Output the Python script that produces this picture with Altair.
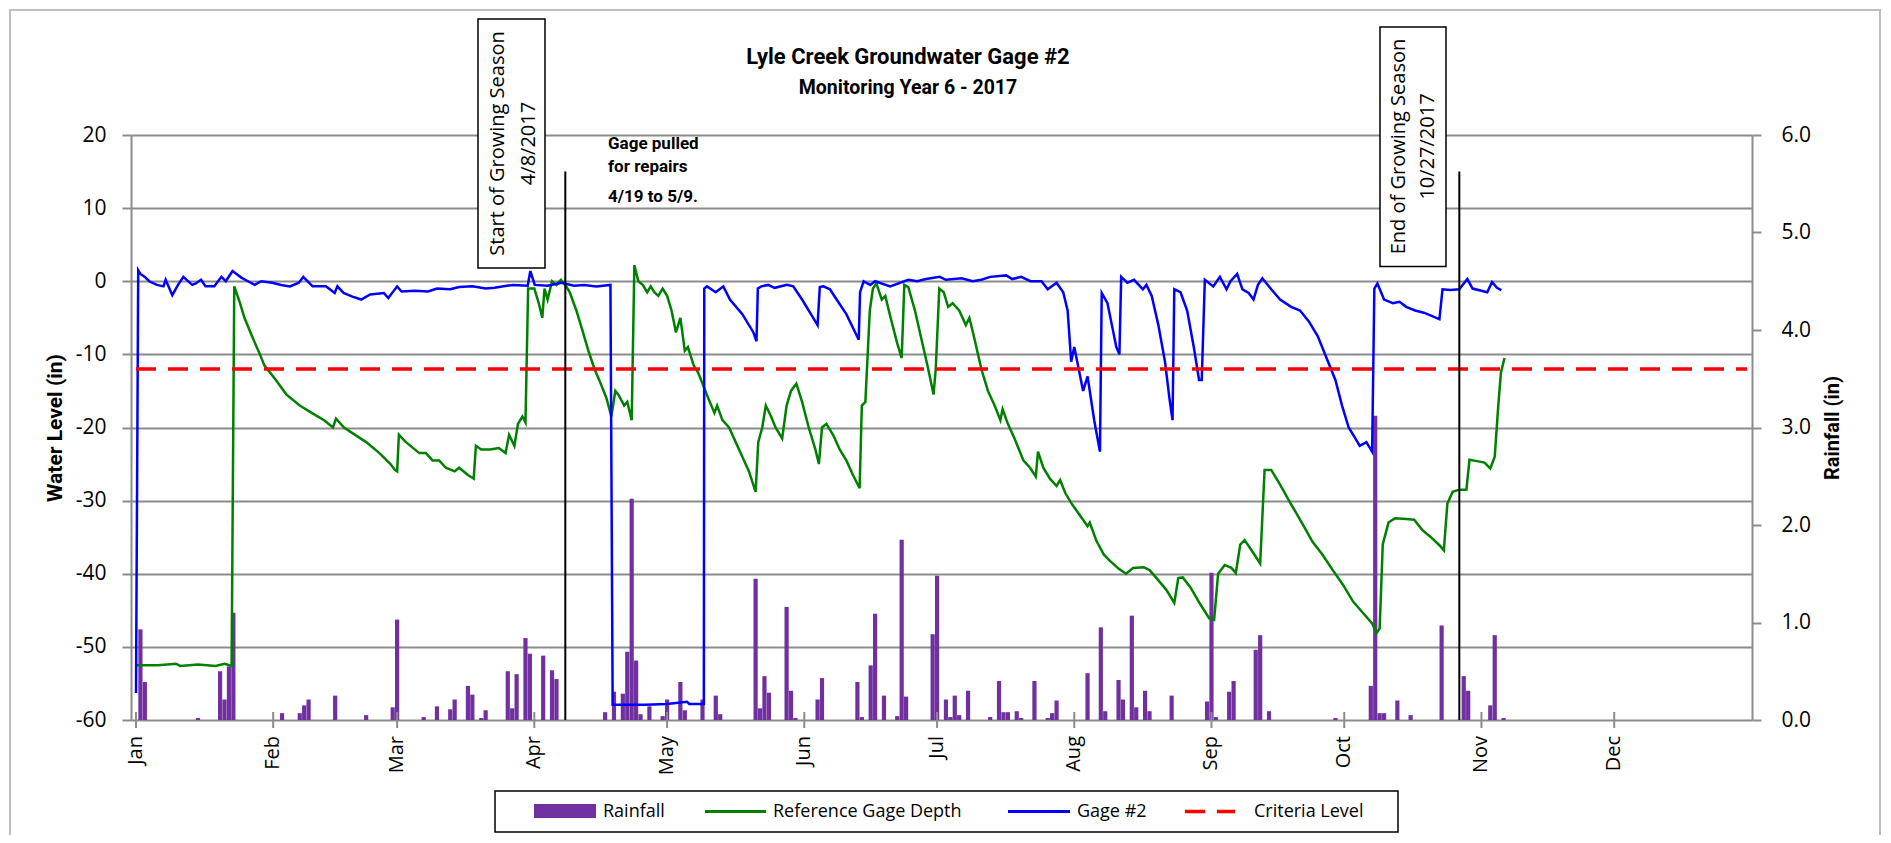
import altair as alt
import pandas as pd

# ---------------- data (day index: 0 = Jan 1, 2017) ----------------
MONTHS = ["Jan", "Feb", "Mar", "Apr", "May", "Jun", "Jul", "Aug", "Sep", "Oct", "Nov", "Dec"]
MONTH_START = [0, 31, 59, 90, 120, 151, 181, 212, 243, 273, 304, 334]

RAIN_DAY = [1, 2, 14, 19, 20, 21, 22, 33, 37, 38, 39, 45, 52, 58, 59, 65, 68, 71, 72, 75, 76, 78, 79,
            84, 85, 86, 88, 89, 92, 94, 95, 106, 108, 110, 111, 112, 113, 114, 116, 119, 120, 123, 124,
            128, 131, 132, 140, 141, 142, 143, 147, 148, 149, 154, 155, 163, 164, 166, 167, 169, 172,
            173, 174, 180, 181, 183, 184, 185, 186, 188, 193, 195, 196, 197, 199, 200, 203, 206, 207,
            208, 215, 218, 219, 222, 223, 225, 226, 228, 229, 234, 242, 243, 244, 247, 248, 253, 254,
            256, 271, 279, 280, 281, 282, 285, 288, 295, 300, 301, 306, 307, 309]
RAIN_IN = [0.93, 0.39, 0.02, 0.50, 0.21, 0.55, 1.10, 0.07, 0.07, 0.15, 0.21, 0.25, 0.05, 0.13, 1.03,
           0.03, 0.14, 0.11, 0.21, 0.35, 0.26, 0.02, 0.10, 0.50, 0.12, 0.47, 0.84, 0.68, 0.66, 0.51,
           0.42, 0.08, 0.29, 0.27, 0.70, 2.27, 0.61, 0.06, 0.14, 0.04, 0.21, 0.39, 0.10, 0.21, 0.25,
           0.06, 1.45, 0.12, 0.45, 0.28, 1.16, 0.30, 0.02, 0.21, 0.43, 0.39, 0.03, 0.56, 1.09, 0.25,
           0.04, 1.85, 0.24, 0.88, 1.48, 0.21, 0.03, 0.25, 0.05, 0.30, 0.03, 0.40, 0.08, 0.08, 0.09,
           0.02, 0.40, 0.02, 0.07, 0.20, 0.48, 0.95, 0.09, 0.41, 0.21, 1.07, 0.13, 0.30, 0.09, 0.25,
           0.19, 1.51, 0.03, 0.29, 0.40, 0.72, 0.87, 0.09, 0.02, 0.35, 3.12, 0.07, 0.07, 0.20, 0.05,
           0.97, 0.45, 0.30, 0.15, 0.87, 0.02]

REF_DAY = [0, 5, 9, 10, 14, 18, 20, 21.6, 22.2, 23.5, 24.5, 26.2, 28, 29, 31.6, 34, 37, 39.7, 42.5,
           44.5, 45.2, 47, 49, 52, 55, 57.5, 58.5, 59, 59.4, 61, 64, 65.5, 67, 68.5, 70, 72, 73, 75,
           76.3, 76.8, 78, 80, 82, 83.5, 84.3, 85.5, 86.3, 87.3, 88, 88.6, 90, 91, 91.8, 92.3, 93, 94,
           95, 96, 97, 98, 99.5, 101, 102.2, 103.6, 105, 106.3, 107.4, 108.3, 109, 110.3, 111, 112,
           112.6, 113.5, 114.5, 115.5, 116.3, 117.1, 118, 119, 120, 121, 122, 123, 124, 124.7, 126,
           127, 128, 129.3, 130.7, 131.3, 132.5, 134, 135.5, 137, 138.5, 140, 140.6, 141.5, 142.3,
           143.5, 144.5, 146, 147, 148, 149.2, 150.5, 152, 153.5, 154.3, 155, 156, 157.5, 159, 160.5,
           162, 163.5, 164, 164.8, 165.8, 166.5, 167.3, 168.5, 169.3, 170.5, 172, 173, 173.6, 174.5,
           176, 177.5, 179, 180.2, 180.7, 181.5, 182.5, 183.5, 184.5, 186, 187.5, 188.3, 189.5, 191,
           192.5, 194, 195.3, 195.8, 197, 198.5, 199.5, 200.5, 202, 203.3, 203.8, 205, 206.5, 208,
           208.8, 210, 211.5, 213.5, 215, 215.5, 217, 218.7, 220, 222, 223.7, 225.3, 227.7, 229,
           230.3, 232.8, 234.6, 235.5, 236.5, 238.3, 240.3, 242.5, 243.6, 244.5, 246, 247.5, 248.5,
           249.5, 250.5, 252.5, 254, 255, 256.5, 258.5, 261, 263.5, 265.8, 268.1, 270.4, 272.7, 275,
           277.3, 279.3, 280.3, 281, 281.7, 283, 284.5, 287, 288.8, 290.6, 292.4, 294.5, 295.5, 296.3,
           297.5, 299, 300.6, 301.3, 303, 304.7, 306, 307, 307.8, 308.4, 309.2]
REF_LEVEL = [-52.5, -52.5, -52.3, -52.6, -52.4, -52.6, -52.3, -52.6, -0.7, -3, -5, -7.5, -10, -11.5,
             -13.5, -15.5, -17, -18, -19, -20, -18.8, -20, -20.8, -22, -23.5, -25, -25.8, -26, -21,
             -22, -23.5, -23.5, -24.5, -24.5, -25.5, -26, -25.5, -26.5, -27, -22.5, -23, -23, -22.8,
             -23.5, -21, -22.5, -19.5, -18.5, -19.3, -1, -1, -3, -5, -1, -2.5, 0, -0.5, 0.2, -0.5,
             -1.5, -4, -7, -9.5, -12, -14, -16, -18.5, -15, -15.5, -17, -16.5, -19, 2.2, 0, -0.5, -1.5,
             -0.7, -1.5, -2, -1, -2, -4, -7, -5, -9.5, -9, -11.5, -12.5, -14, -16, -18, -17, -19, -20,
             -22, -24, -26, -28.8, -22, -20, -17, -18.5, -20, -21.5, -17, -15, -14, -16.5, -20, -23,
             -25, -20, -19.5, -21, -23, -24.5, -26.5, -28.3, -17, -16.5, -4, -1, -0.3, -2.5, -2, -5,
             -8.5, -10.5, -0.5, -0.8, -4, -8, -12, -15.5, -12, -1, -1.5, -3.5, -3, -4, -6, -5, -8, -12,
             -15, -17, -19, -17.5, -19.5, -21.5, -23, -24.5, -25.5, -26.7, -23.3, -25.5, -27, -28,
             -27.2, -29, -30.5, -32.2, -33.5, -33, -35.5, -37.4, -38.2, -39.3, -40, -39.2, -39.1,
             -39.5, -40.4, -42.2, -44, -40.6, -40.5, -41.9, -44, -46.1, -46.3, -40, -38.8, -39.2,
             -39.9, -36, -35.4, -37.2, -38.6, -25.8, -25.8, -27.8, -30.5, -33.1, -35.6, -37.4, -39.5,
             -41.5, -43.8, -45.4, -46.8, -48.1, -47.5, -36, -33, -32.4, -32.5, -32.6, -34, -34.9,
             -36.1, -36.8, -30.4, -28.8, -28.5, -28.5, -24.4, -24.6, -24.8, -25.6, -24, -17, -12.5,
             -10.5]

GAGE_DAY = [0, 0.5, 1, 2, 3, 4.7, 6.2, 6.7, 8.2, 9.5, 10.7, 12.7, 13.5, 14.7, 15.7, 17.7, 19.3, 20.3,
            21.8, 23.8, 25.3, 26.8, 28.3, 30.8, 32.8, 34.8, 36.8, 37.8, 39.9, 42.9, 44.9, 45.5, 46.9,
            48.9, 50.9, 52.9, 56, 57, 59, 60, 63, 66, 68, 71, 73, 76, 79, 81, 85.1, 88.5, 89.1, 90.1,
            93, 96.1, 99, 101.2, 104, 107.2, 107.7, 115, 120, 124.5, 125, 128.3, 128.4, 129, 131,
            132.7, 134.2, 137, 139.5, 140.2, 140.5, 141.3, 142.8, 144.3, 147.1, 148.5, 150.5, 152.5,
            154, 154.5, 155.3, 156.8, 158.3, 160.5, 162.5, 163.3, 163.6, 164.4, 165.9, 167, 170.4,
            174.5, 176.5, 178.5, 181.6, 183, 186.6, 189, 191, 193, 196.6, 198, 200, 202.1, 204.6, 206,
            208, 209.5, 210.5, 211.3, 212, 214, 215, 216.5, 217.8, 218.2, 219.5, 220.5, 221.5, 222.2,
            222.6, 224, 225.5, 227.5, 228.3, 229.5, 231, 232.5, 233.5, 234.2, 234.6, 236, 237.5, 239,
            240.2, 240.8, 241.5, 243.4, 244.9, 246.4, 247.3, 248.8, 250, 251.4, 252.5, 253.5, 254.5,
            256.5, 258.5, 261, 263, 265, 267, 269, 271, 272.5, 274, 275.5, 276.5, 278, 279.3, 279.8,
            280.5, 282, 284, 285.5, 287, 289, 291, 293, 294.5, 295.2, 297, 299, 300.8, 302, 304,
            305.3, 306.4, 307.5, 308.5]
GAGE_LEVEL = [-56.3, 1.5, 1.0, 0.6, 0, -0.5, -0.7, 0.2, -1.9, -0.5, 0.6, -0.5, -0.3, 0.2, -0.7, -0.7,
              0.6, 0, 1.4, 0.5, 0, -0.5, 0, -0.2, -0.5, -0.7, -0.2, 0.6, -0.7, -0.7, -1.6, -0.7, -1.6,
              -2.1, -2.5, -1.8, -1.6, -2.3, -0.7, -1.4, -1.3, -1.4, -1.0, -1.1, -0.8, -0.7, -1.0, -0.9,
              -0.5, -0.6, 1.4, -0.5, -0.6, -0.2, -0.6, -0.5, -0.7, -0.5, -57.9, -57.9, -57.8, -57.5,
              -57.8, -57.8, -1, -0.7, -1.5, -0.7, -2.5, -4.5, -7, -8.2, -1, -0.7, -0.5, -0.9, -0.5,
              -0.7, -2.5, -4.5, -6, -0.8, -0.7, -1.1, -2.5, -4.5, -7, -8, -1.5, 0, -0.5, 0, -0.7, 0.2,
              0, 0.3, 0.6, 0.2, 0.4, 0, 0.2, 0.6, 0.8, 0.3, 0.6, 0, 0, -1.1, -0.2, -1.5, -4, -11, -9,
              -15, -13, -19, -23.3, -1.6, -3, -6, -9, -10, 0.6, -0.2, 0.2, -1.1, -0.5, -2, -6, -11,
              -16, -19, -1.1, -1.5, -4, -9, -13.5, -13.5, 0.2, -0.7, 0.6, -1.1, 0, 1.0, -1.1, -1.6,
              -2.5, -0.5, 0.4, -1.1, -2.5, -3.5, -4, -5.5, -7.5, -10.5, -13.5, -17, -20, -21.5, -22.5,
              -22, -23.3, -1, -0.3, -2.5, -3, -2.8, -3.5, -4, -4.3, -4.8, -5.2, -1.1, -1.2, -1.1, 0.3,
              -1, -1.3, -1.5, -0.1, -0.9, -1.2]

CRITERIA_DAY = [0, 364]
CRITERIA_LEVEL = [-12, -12]

SEASON_DAY = [97, 299]          # 4/8/2017 and 10/27/2017
SEASON_BOTTOM = [-60, -60]
SEASON_TOP = [15, 15]

LEFT_TICKS = [-60, -50, -40, -30, -20, -10, 0, 10, 20]
RIGHT_TICKS = [0, 1, 2, 3, 4, 5, 6]

# ---------------- styling ----------------
BLUE, GREEN, RED, PURPLE = "#0000FF", "#008000", "#FF0000", "#7030A0"
GRID = "#8c8c8c"
TICK_FONT = "Open Sans"
BOLD_FONT = "Roboto"

rain_df = pd.DataFrame({"day": RAIN_DAY, "rain": RAIN_IN})
ref_df = pd.DataFrame({"day": REF_DAY, "level": REF_LEVEL})
gage_df = pd.DataFrame({"day": GAGE_DAY, "level": GAGE_LEVEL})
crit_df = pd.DataFrame({"day": CRITERIA_DAY, "level": CRITERIA_LEVEL})
season_df = pd.DataFrame({"day": SEASON_DAY, "lo": SEASON_BOTTOM, "hi": SEASON_TOP})
month_df = pd.DataFrame({"day": MONTH_START, "name": MONTHS})

x_scale = alt.Scale(domain=[0, 364], nice=False, zero=False)
x_axis = alt.Axis(values=MONTH_START, labels=False, ticks=False,
                  domainColor=GRID, domainWidth=2, grid=False, title=None)
x_enc = alt.X("day:Q", scale=x_scale, axis=x_axis)
x_plain = alt.X("day:Q", scale=x_scale, axis=None)

left_scale = alt.Scale(domain=[-60, 20], nice=False, zero=False)
left_axis = alt.Axis(orient="left", values=LEFT_TICKS, format="d",
                     grid=True, gridColor=GRID, gridWidth=2, domainColor=GRID, domainWidth=2,
                     tickColor=GRID, tickWidth=2, tickSize=9, labelPadding=16,
                     labelFont=TICK_FONT, labelFontSize=21, labelColor="black",
                     title="Water Level (in)", titleFont=BOLD_FONT, titleFontSize=21,
                     titleFontWeight="bold", titleColor="black", titlePadding=10)

right_axis = alt.Axis(orient="right", values=RIGHT_TICKS, format=".1f", grid=False,
                      domainColor=GRID, domainWidth=2, tickColor=GRID, tickWidth=2, tickSize=9,
                      labelPadding=20, labelFont=TICK_FONT, labelFontSize=21, labelColor="black",
                      title="Rainfall (in)", titleFont=BOLD_FONT, titleFontSize=20,
                      titleFontWeight="bold", titleColor="black", titleAngle=270,
                      titleBaseline="top", titlePadding=12)

bars = alt.Chart(rain_df).mark_bar(color=PURPLE, size=4.2).encode(
    x=x_enc,
    y=alt.Y("rain:Q", scale=alt.Scale(domain=[0, 6], nice=False, zero=True), axis=right_axis),
)

ref_line = alt.Chart(ref_df).mark_line(color=GREEN, strokeWidth=2.5).encode(
    x=x_plain, y=alt.Y("level:Q", scale=left_scale, axis=left_axis))
gage_line = alt.Chart(gage_df).mark_line(color=BLUE, strokeWidth=2.5).encode(
    x=x_plain, y=alt.Y("level:Q", scale=left_scale, axis=None))
crit_line = alt.Chart(crit_df).mark_line(color=RED, strokeWidth=3.5, strokeDash=[20, 12]).encode(
    x=x_plain, y=alt.Y("level:Q", scale=left_scale, axis=None))
season_rules = alt.Chart(season_df).mark_rule(color="black", strokeWidth=2).encode(
    x=x_plain, y=alt.Y("lo:Q", scale=left_scale, axis=None), y2="hi:Q")
# month tick marks crossing the date axis, and the month names
month_ticks = alt.Chart(month_df).mark_rule(color=GRID, strokeWidth=2).encode(
    x=x_plain, y=alt.value(577), y2=alt.value(593))
month_labels = alt.Chart(month_df).mark_text(
    font=TICK_FONT, fontSize=20, angle=270, align="right", baseline="middle", color="black"
).encode(x=x_plain, y=alt.value(601), text="name:N")

one = alt.Data(values=[{"k": 1}])


def box(x1, x2, y1, y2, stroke="black", fill="white", sw=1.5):
    return alt.Chart(one).mark_rect(fill=fill, stroke=stroke, strokeWidth=sw).encode(
        x=alt.value(x1), x2=alt.value(x2), y=alt.value(y1), y2=alt.value(y2))


def label(txt, x, y, size=17, font=TICK_FONT, weight="normal", align="left", angle=0,
          baseline="middle"):
    return alt.Chart(one).mark_text(text=txt, font=font, fontSize=size, fontWeight=weight,
                                    align=align, baseline=baseline, angle=angle,
                                    color="black").encode(x=alt.value(x), y=alt.value(y))


def seg(x1, x2, y, color, width=3, dash=None):
    kw = dict(color=color, strokeWidth=width)
    if dash:
        kw["strokeDash"] = dash
    return alt.Chart(one).mark_rule(**kw).encode(x=alt.value(x1), x2=alt.value(x2), y=alt.value(y))


annotations = [
    # outer chart border
    alt.Chart(one).mark_rect(fill="transparent", stroke="#bfbfbf", strokeWidth=2).encode(
        x=alt.value(-121), x2=alt.value(1749), y=alt.value(-125), y2=alt.value(800)),
    # titles
    label("Lyle Creek Groundwater Gage #2", 777, -78, size=22, font=BOLD_FONT, weight="bold",
          align="center"),
    label("Monitoring Year 6 - 2017", 777, -47, size=19.5, font=BOLD_FONT, weight="bold",
          align="center"),
    # start of growing season
    box(347, 414, -116, 133),
    label("Start of Growing Season", 367, 8.5, size=20, align="center", angle=270),
    label("4/8/2017", 398, 8.5, size=20, align="center", angle=270),
    # end of growing season
    box(1249, 1315, -108, 131.5),
    label("End of Growing Season", 1268, 11.5, size=20, align="center", angle=270),
    label("10/27/2017", 1297, 11.5, size=20, align="center", angle=270),
    # gage pulled note
    label("Gage pulled", 477, 9, size=17, font=BOLD_FONT, weight="bold"),
    label("for repairs", 477, 32, size=17, font=BOLD_FONT, weight="bold"),
    label("4/19 to 5/9.", 477, 62, size=17, font=BOLD_FONT, weight="bold"),
    # legend
    box(364, 1267, 656, 697),
    box(403, 465, 669, 683, stroke=PURPLE, fill=PURPLE, sw=0),
    label("Rainfall", 472, 676.5, size=18),
    seg(574, 635, 676.5, GREEN),
    label("Reference Gage Depth", 642, 676.5, size=18),
    seg(877, 939, 676.5, BLUE),
    label("Gage #2", 946, 676.5, size=18),
    seg(1054, 1104, 676.5, RED, width=3.5, dash=[20, 12]),
    label("Criteria Level", 1123, 676.5, size=18),
]

# flat layer: every y scale is independent, but all water-level layers share the same
# explicit domain, so they map identically; only two layers draw an axis.
chart = alt.layer(
    bars, ref_line, gage_line, crit_line, season_rules, month_ticks, month_labels, *annotations
).resolve_scale(y="independent").properties(
    width=1621, height=585,
    autosize=alt.AutoSizeParams(type="none"),
    padding={"left": 123, "top": 127, "right": 131, "bottom": 115},
    background="white",
).configure(
    locale={"number": {"decimal": ".", "thousands": ",", "grouping": [3],
                       "currency": ["$", ""], "minus": "-"}}
).configure_view(stroke=None)

chart.save("out.html", embed_options={"renderer": "svg", "actions": False})
